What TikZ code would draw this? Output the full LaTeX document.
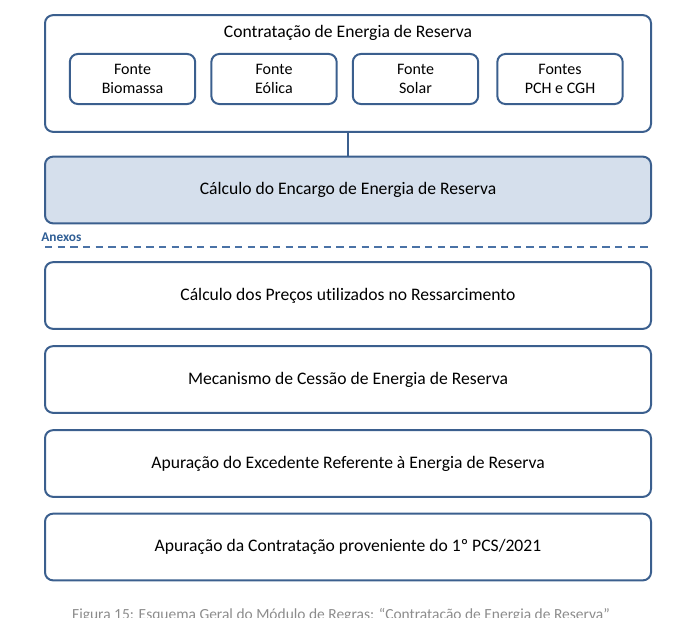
\documentclass[tikz,border=0pt]{standalone}
\usepackage{fontspec}
\setmainfont{Carlito}[Ligatures=NoCommon]
\definecolor{boxblue}{HTML}{3B5F8E}
\definecolor{boxfill}{HTML}{D5DFEC}
\definecolor{anexblue}{HTML}{2F5E95}
\definecolor{dashblue}{HTML}{4A72A6}
\definecolor{capgray}{HTML}{8C8C8C}

\begin{document}
\begin{tikzpicture}[
    x=0.75pt, y=-0.75pt,
    font=\fontsize{13.2}{15}\selectfont,
    modulo/.style={rectangle, rounded corners=6pt, draw=boxblue, line width=1.5pt, minimum width=454.5pt, minimum height=50pt, align=center},
    fonte/.style={rectangle, rounded corners=6pt, draw=boxblue, line width=1.5pt, minimum width=94pt, minimum height=37.5pt, align=center, font=\fontsize{12}{14.3}\selectfont},
    link/.style={draw=boxblue, line width=1.5pt}
]
    \useasboundingbox (0,0) rectangle (695,635);

    % Contratacao de energia de reserva
    \node[modulo, minimum height=87.5pt] (contrat) at (348,73.5) {};
    \node (titulo) at (348,33) {Contratação de Energia de Reserva};
    \node[fonte] (biomassa) at (132.5,79) {Fonte\\Biomassa};
    \node[fonte] (eolica) at (274,79) {Fonte\\Eólica};
    \node[fonte] (solar) at (415.5,79) {Fonte\\Solar};
    \node[fonte] (pch) at (560,79) {Fontes\\PCH e CGH};

    % Encargo
    \node[modulo, fill=boxfill] (encargo) at (348,190) {Cálculo do Encargo de Energia de Reserva};
    \draw[link] (contrat) -- (encargo);

    % Anexos
    \node[anchor=west, inner sep=0pt, text=anexblue, font=\fontsize{10}{12}\bfseries] (anexos) at (41,237) {Anexos};
    \coordinate (linhaA) at (45,247);
    \coordinate (linhaB) at (648,247);
    \draw[dashblue, line width=1.1pt, dash pattern=on 5.5pt off 4pt] (linhaA) -- (linhaB);

    \node[modulo] (precos) at (348,295.5) {Cálculo dos Preços utilizados no Ressarcimento};
    \node[modulo] (cessao) at (348,379.5) {Mecanismo de Cessão de Energia de Reserva};
    \node[modulo] (excedente) at (348,463.5) {Apuração do Excedente Referente à Energia de Reserva};
    \node[modulo] (pcs) at (348,547) {Apuração da Contratação proveniente do 1º PCS/2021};

    % Legenda (cortada na imagem)
    \begin{scope}
        \clip (0,0) rectangle (695,617);
        \node[anchor=base, text=capgray, font=\fontsize{11.6}{13}\selectfont] (legenda) at (341,619) {Figura 15: Esquema Geral do Módulo de Regras: “Contratação de Energia de Reserva”};
    \end{scope}
\end{tikzpicture}
\end{document}
